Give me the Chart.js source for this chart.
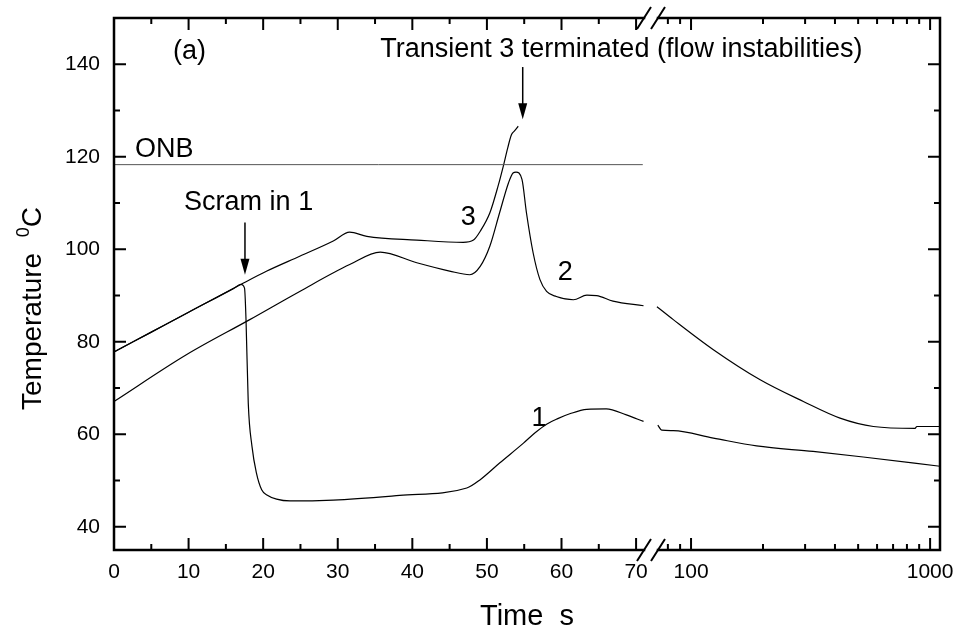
<!DOCTYPE html>
<html>
<head>
<meta charset="utf-8">
<script src="https://cdn.jsdelivr.net/npm/chart.js@4.4.1/dist/chart.umd.min.js"></script>
<style>
  html, body { margin: 0; padding: 0; background: #fff; }
  canvas { display: block; }
</style>
</head>
<body>
<canvas id="chart-temp" width="958" height="633"></canvas>
<script>
// time axis is broken: linear part 0..72 s, log part 68..1100 s
const linMin = 0, linMax = 72;
const logMin = 68, logMax = 1100;
const tempMin = 35, tempMax = 150;

const xMajorLin = [0, 10, 20, 30, 40, 50, 60, 70];
const xMinorLin = [5, 15, 25, 35, 45, 55, 65];
const xMajorLog = [100, 1000];
const xMinorLog = [80, 90, 200, 300, 400, 500, 600, 700, 800, 900];
const yMajor = [40, 60, 80, 100, 120, 140];
const yMinor = [50, 70, 90, 110, 130];

// curve 1 (scram at ~17 s), linear part and log part
const time1a = [0, 5, 10, 16, 17, 17.5, 17.7, 18.0, 18.5, 19.1, 19.8, 20.5, 21.8, 23.6, 29.4, 38.3, 47.3, 49.1, 51.7, 54.9, 56.5, 58, 59.5, 61.2, 63.4, 66, 68.7, 71];
const temp1a = [77.8, 82.1, 86.4, 91.5, 92.4, 91.6, 84.8, 66.8, 57.4, 51.6, 48, 46.9, 46, 45.6, 45.8, 46.8, 48.4, 50.2, 53.8, 58.1, 60.4, 62.2, 63.4, 64.5, 65.4, 65.5, 64.2, 62.8];
const time1b = [72.6, 75.4, 84.3, 124, 188, 324, 525, 1100];
const temp1b = [62.0, 60.9, 60.8, 59.2, 57.5, 56.3, 55.1, 53.1];

// curve 2
const time2a = [0, 9.7, 18.2, 24.9, 31.6, 35.7, 40.6, 45, 47.7, 49.1, 50.4, 51.7, 52.9, 53.5, 53.9, 54.7, 55.3, 56.2, 57.1, 58, 59.3, 61.6, 63.4, 64.7, 66.9, 71];
const temp2a = [67.1, 77.2, 84.8, 90.9, 96.7, 99.4, 97.1, 95.3, 94.5, 96.3, 100.7, 107.9, 114.4, 116.5, 116.7, 115.1, 107.9, 99.2, 93.5, 90.9, 89.8, 89.1, 90.1, 90.0, 88.8, 87.8];
const time2b = [72, 84.3, 124, 194.6, 295, 420, 579, 865, 880, 1100];
const temp2b = [87.6, 84.8, 78.3, 71.8, 67.1, 63.5, 61.7, 61.3, 61.7, 61.7];

// curve 3 (terminated at ~54 s)
const time3 = [0, 5, 10, 17, 20.5, 24.9, 29.4, 31.6, 33.9, 40.6, 46.8, 48.2, 49.1, 50.4, 51.5, 52.2, 52.8, 53.3, 53.7, 54.2];
const temp3 = [77.8, 82.1, 86.4, 92.4, 95.3, 98.5, 101.8, 103.7, 102.8, 102.0, 101.5, 102.0, 103.9, 107.9, 113.7, 118, 122, 124.8, 125.6, 126.6];

// onset of nucleate boiling
const timeOnb = [0, 70.9];
const tempOnb = [118.3, 118.3];

// text on the plot, in data units (linear time part)
const notes = [
  { text: "(a)", t: 7.9, T: 142.8, align: "left" },
  { text: "Transient 3 terminated (flow instabilities)", t: 35.7, T: 143.2, align: "left" },
  { text: "ONB", t: 2.8, T: 121.6, align: "left" },
  { text: "Scram in 1", t: 9.4, T: 110.1, align: "left" },
  { text: "3", t: 47.5, T: 106.9, align: "center" },
  { text: "2", t: 60.5, T: 95.0, align: "center" },
  { text: "1", t: 57.0, T: 63.4, align: "center" },
];
const arrows = [
  { t: 17.56, from: 105.8, to: 94.5 },
  { t: 54.8, from: 139.4, to: 128.1 },
];

function zip(xs, ys) {
  return xs.map((x, i) => ({ x: x, y: ys[i] }));
}

const fontFamily = "'Liberation Sans', Arial, sans-serif";

function lineSet(label, xs, ys, axis, color, width) {
  return {
    label: label,
    data: zip(xs, ys),
    xAxisID: axis,
    yAxisID: "y",
    borderColor: color,
    borderWidth: width,
    pointRadius: 0,
    fill: false,
    cubicInterpolationMode: "monotone",
  };
}

// no extra room for first/last tick labels, the frame is fixed
function noPadding(s) {
  s.paddingTop = 0;
  s.paddingBottom = 0;
  s.paddingLeft = 0;
  s.paddingRight = 0;
}

const framePlugin = {
  id: "frame",
  afterDraw(chart) {
    const ctx = chart.ctx;
    const a = chart.chartArea;
    const sx = chart.scales.x;
    const sx2 = chart.scales.x2;
    const sy = chart.scales.y;
    const brk = sx.right;

    ctx.save();
    ctx.strokeStyle = "#000";
    ctx.fillStyle = "#000";

    // frame, broken on top and bottom
    ctx.lineWidth = 2.5;
    ctx.lineCap = "square";
    ctx.beginPath();
    ctx.moveTo(a.left, a.top);
    ctx.lineTo(a.left, a.bottom);
    ctx.moveTo(a.right, a.top);
    ctx.lineTo(a.right, a.bottom);
    [a.top, a.bottom].forEach((yy) => {
      ctx.moveTo(a.left, yy);
      ctx.lineTo(brk - 7, yy);
      ctx.moveTo(brk + 7, yy);
      ctx.lineTo(a.right, yy);
    });
    ctx.stroke();

    // break marks
    ctx.lineCap = "butt";
    ctx.lineWidth = 2;
    ctx.beginPath();
    [a.top, a.bottom].forEach((yy) => {
      [-7, 7].forEach((dx) => {
        ctx.moveTo(brk + dx - 7, yy + 11);
        ctx.lineTo(brk + dx + 7, yy - 11);
      });
    });
    ctx.stroke();

    // inward ticks
    ctx.lineWidth = 2;
    ctx.beginPath();
    const xTicks = (scale, vals, len) => {
      vals.forEach((v) => {
        const px = scale.getPixelForValue(v);
        ctx.moveTo(px, a.bottom);
        ctx.lineTo(px, a.bottom - len);
        ctx.moveTo(px, a.top);
        ctx.lineTo(px, a.top + len);
      });
    };
    xTicks(sx, xMajorLin, 12);
    xTicks(sx, xMinorLin, 6);
    xTicks(sx2, xMajorLog, 12);
    xTicks(sx2, xMinorLog, 6);
    const yTicks = (vals, len) => {
      vals.forEach((v) => {
        const py = sy.getPixelForValue(v);
        ctx.moveTo(a.left, py);
        ctx.lineTo(a.left + len, py);
        ctx.moveTo(a.right, py);
        ctx.lineTo(a.right - len, py);
      });
    };
    yTicks(yMajor, 12);
    yTicks(yMinor, 6);
    ctx.stroke();

    // arrows
    ctx.lineWidth = 1.5;
    arrows.forEach((ar) => {
      const px = sx.getPixelForValue(ar.t);
      const y1 = sy.getPixelForValue(ar.from);
      const y2 = sy.getPixelForValue(ar.to);
      ctx.beginPath();
      ctx.moveTo(px, y1);
      ctx.lineTo(px, y2 - 14);
      ctx.stroke();
      ctx.beginPath();
      ctx.moveTo(px, y2);
      ctx.lineTo(px - 4.5, y2 - 16);
      ctx.lineTo(px + 4.5, y2 - 16);
      ctx.closePath();
      ctx.fill();
    });

    // annotations
    ctx.font = "27px " + fontFamily;
    ctx.textBaseline = "middle";
    notes.forEach((n) => {
      ctx.textAlign = n.align;
      ctx.fillText(n.text, sx.getPixelForValue(n.t), sy.getPixelForValue(n.T));
    });

    // axis titles
    ctx.font = "29px " + fontFamily;
    ctx.textBaseline = "alphabetic";
    ctx.textAlign = "center";
    ctx.fillText("Time  s", (a.left + a.right) / 2, 625);

    ctx.font = "28px " + fontFamily;
    ctx.translate(41, 410);
    ctx.rotate(-Math.PI / 2);
    ctx.textAlign = "left";
    const word = "Temperature  ";
    ctx.fillText(word, 0, 0);
    let w = ctx.measureText(word).width;
    ctx.font = "18px " + fontFamily;
    ctx.fillText("0", w, -12);
    w += ctx.measureText("0").width;
    ctx.font = "28px " + fontFamily;
    ctx.fillText("C", w, 0);

    ctx.restore();
  },
};

const tickFont = { family: fontFamily, size: 21 };

const ctxTemp = document.getElementById("chart-temp");
new Chart(ctxTemp, {
  type: "line",
  data: {
    datasets: [
      lineSet("ONB", timeOnb, tempOnb, "x", "#555", 1),
      lineSet("1", time1a, temp1a, "x", "#000", 1.2),
      lineSet("1", time1b, temp1b, "x2", "#000", 1.2),
      lineSet("2", time2a, temp2a, "x", "#000", 1.2),
      lineSet("2", time2b, temp2b, "x2", "#000", 1.2),
      lineSet("3", time3, temp3, "x", "#000", 1.2),
    ],
  },
  options: {
    responsive: false,
    animation: false,
    devicePixelRatio: 1,
    layout: { padding: { left: 0, right: 18, top: 18, bottom: 0 } },
    plugins: {
      legend: { display: false },
      tooltip: { enabled: false },
    },
    scales: {
      x: {
        type: "linear",
        position: "bottom",
        stack: "time",
        stackWeight: 537,
        min: linMin,
        max: linMax,
        grid: { display: false, drawTicks: false },
        border: { display: false },
        afterBuildTicks: (s) => {
          s.ticks = xMajorLin.map((v) => ({ value: v }));
        },
        afterFit: (s) => {
          s.height = 83;
          noPadding(s);
        },
        ticks: {
          font: tickFont,
          color: "#000",
          padding: 10,
          maxRotation: 0,
          autoSkip: false,
          callback: (v) => String(v),
        },
      },
      x2: {
        type: "logarithmic",
        position: "bottom",
        stack: "time",
        stackWeight: 289,
        min: logMin,
        max: logMax,
        grid: { display: false, drawTicks: false },
        border: { display: false },
        afterBuildTicks: (s) => {
          s.ticks = xMajorLog.map((v) => ({ value: v }));
        },
        afterFit: (s) => {
          s.height = 83;
          noPadding(s);
        },
        ticks: {
          font: tickFont,
          color: "#000",
          padding: 10,
          maxRotation: 0,
          autoSkip: false,
          callback: (v) => String(v),
        },
      },
      y: {
        type: "linear",
        position: "left",
        min: tempMin,
        max: tempMax,
        grid: { display: false, drawTicks: false },
        border: { display: false },
        afterBuildTicks: (s) => {
          s.ticks = yMajor.map((v) => ({ value: v }));
        },
        afterFit: (s) => {
          s.width = 114;
          noPadding(s);
        },
        ticks: {
          font: tickFont,
          color: "#000",
          padding: 14,
          callback: (v) => String(v),
        },
      },
    },
  },
  plugins: [framePlugin],
});
</script>
</body>
</html>
